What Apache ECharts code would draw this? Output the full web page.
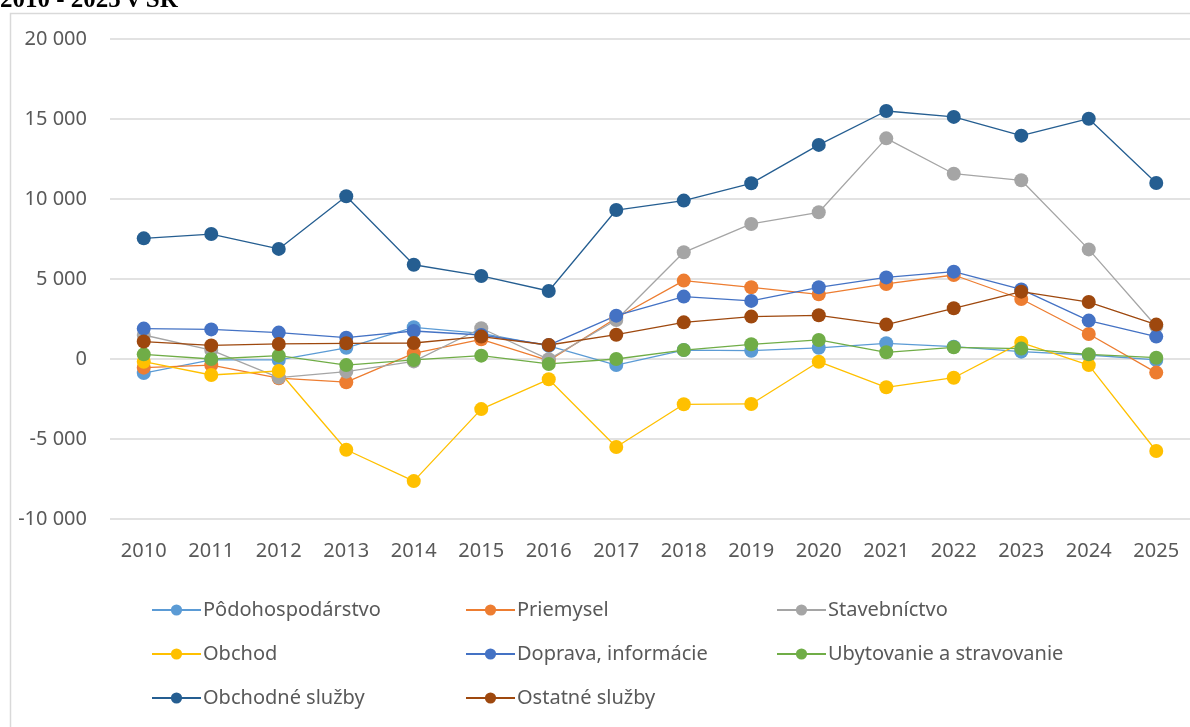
<!DOCTYPE html>
<html>
<head>
<meta charset="utf-8">
<script src="https://cdn.jsdelivr.net/npm/echarts@6/dist/echarts.min.js"></script>
<style>
  html, body { margin: 0; padding: 0; background: #fff; }
  #chart { width: 1190px; height: 727px; }
</style>
</head>
<body>
<div id="chart"></div>
<script>
const years = ['2010', '2011', '2012', '2013', '2014', '2015', '2016', '2017',
  '2018', '2019', '2020', '2021', '2022', '2023', '2024', '2025']

const podohospodarstvo = [-880, -50, -60, 700, 1980, 1600, 820, -380, 560, 520, 700, 980, 770, 460, 250, -60]
const priemysel = [-540, -380, -1200, -1450, 350, 1230, -100, 2560, 4900, 4480, 4040, 4690, 5250, 3750, 1560, -850]
const stavebnictvo = [1500, 560, -1160, -790, -150, 1920, -20, 2440, 6670, 8440, 9170, 13790, 11580, 11170, 6850, 2050]
const obchod = [-170, -1000, -750, -5670, -7630, -3130, -1270, -5500, -2830, -2810, -170, -1770, -1170, 1020, -380, -5750]
const doprava = [1900, 1850, 1650, 1330, 1750, 1500, 870, 2710, 3900, 3630, 4480, 5100, 5460, 4350, 2400, 1400]
const ubytovanie = [290, 0, 210, -380, -60, 210, -310, 0, 560, 920, 1190, 420, 730, 650, 290, 80]
const obchodneSluzby = [7540, 7810, 6880, 10170, 5890, 5190, 4250, 9310, 9900, 10980, 13380, 15500, 15130, 13960, 15020, 11000]
const ostatneSluzby = [1090, 850, 940, 980, 1000, 1400, 875, 1520, 2290, 2650, 2730, 2150, 3170, 4210, 3560, 2150]

const seriesDefs = [
  { name: 'Pôdohospodárstvo', data: podohospodarstvo, color: '#5B9BD5' },
  { name: 'Priemysel', data: priemysel, color: '#ED7D31' },
  { name: 'Stavebníctvo', data: stavebnictvo, color: '#A5A5A5' },
  { name: 'Obchod', data: obchod, color: '#FFC000' },
  { name: 'Doprava, informácie', data: doprava, color: '#4472C4' },
  { name: 'Ubytovanie a stravovanie', data: ubytovanie, color: '#70AD47' },
  { name: 'Obchodné služby', data: obchodneSluzby, color: '#255E91' },
  { name: 'Ostatné služby', data: ostatneSluzby, color: '#9E480E' }
]

const font = '"Noto Sans", sans-serif'
const textColor = '#595959'

function fmt(v) {
  const s = String(Math.abs(v)).replace(/\B(?=(\d{3})+(?!\d))/g, ' ')
  return (v < 0 ? '-' : '') + s
}

function legendCol(left, names) {
  return {
    orient: 'vertical',
    left: left,
    top: 595,
    itemGap: 24,
    itemWidth: 49,
    itemHeight: 14,
    data: names,
    textStyle: { fontFamily: font, fontSize: 20, color: textColor, padding: [0, 0, 0, -3] }
  }
}

const chart = echarts.init(document.getElementById('chart'))

chart.setOption({
  animation: false,
  graphic: [
    {
      type: 'rect',
      shape: { x: 10.5, y: 13.5, width: 1200, height: 730 },
      style: { fill: 'none', stroke: '#D9D9D9', lineWidth: 1.5 },
      z: -1
    },
    {
      type: 'text',
      left: 0,
      top: -12,
      style: {
        text: '2010 - 2025 v SR',
        font: 'bold 25px "Liberation Serif", serif',
        fill: '#000'
      }
    }
  ],
  grid: { left: 110, top: 39, width: 1082, height: 480 },
  legend: [
    legendCol(146, ['Pôdohospodárstvo', 'Obchod', 'Obchodné služby']),
    legendCol(460, ['Priemysel', 'Doprava, informácie', 'Ostatné služby']),
    legendCol(771, ['Stavebníctvo', 'Ubytovanie a stravovanie'])
  ],
  xAxis: {
    type: 'category',
    data: years,
    boundaryGap: true,
    axisLine: { show: false },
    axisTick: { show: false },
    axisLabel: { margin: 22, fontFamily: font, fontSize: 20, color: textColor }
  },
  yAxis: {
    type: 'value',
    min: -10000,
    max: 20000,
    interval: 5000,
    axisLine: { show: false },
    axisTick: { show: false },
    axisLabel: {
      margin: 23,
      fontFamily: font,
      fontSize: 20,
      color: textColor,
      formatter: fmt
    },
    splitLine: { lineStyle: { color: '#D9D9D9', width: 1.5 } }
  },
  series: seriesDefs.map(s => ({
    name: s.name,
    type: 'line',
    data: s.data,
    symbol: 'circle',
    symbolSize: 14,
    color: s.color,
    lineStyle: { width: 1.3, color: s.color },
    itemStyle: { color: s.color }
  }))
})
</script>
</body>
</html>
